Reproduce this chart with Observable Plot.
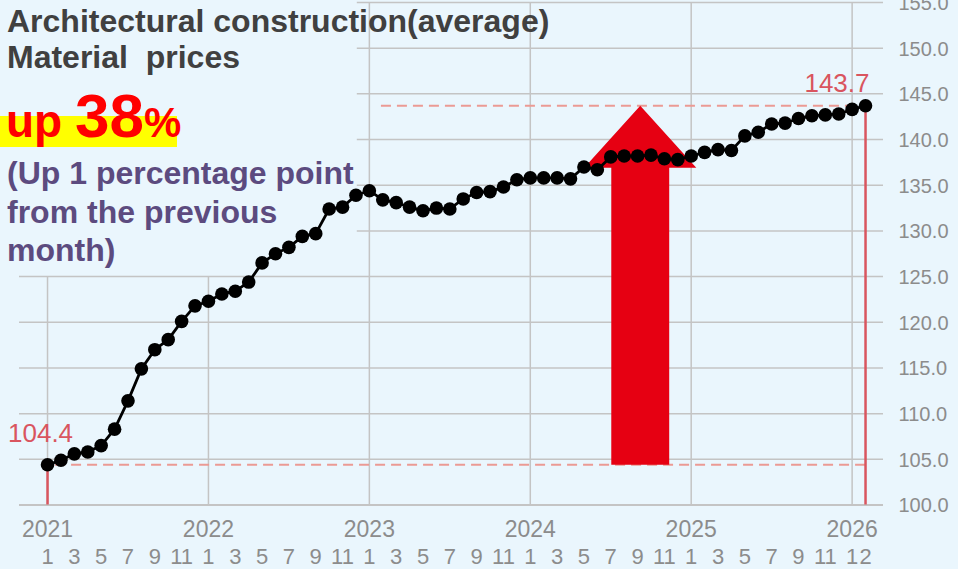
<!DOCTYPE html>
<html>
<head>
<meta charset="utf-8">
<script src="https://cdn.jsdelivr.net/npm/d3@7"></script>
<script src="https://cdn.jsdelivr.net/npm/@observablehq/plot@0.6"></script>
<style>
  html, body { margin: 0; padding: 0; background: #eaf6fd; }
  #wrap { position: relative; width: 958px; height: 569px; overflow: hidden; background: #eaf6fd; }
  #chart { position: absolute; left: 0; top: 0; }
  .ov { position: absolute; white-space: pre; font-family: "Liberation Sans", Arial, sans-serif; font-weight: bold; }
  .title { font-size: 32px; line-height: 32px; color: #404040; left: 7px; }
  .hl { position: absolute; left: 0; top: 116px; width: 177px; height: 31px; background: #ffff00; }
  .big { left: 6px; top: 83px; font-size: 64px; line-height: 1; color: #ff0000; }
  .sub { left: 7px; top: 154px; font-size: 32px; line-height: 38.5px; color: #5c4b7f; }
  g[aria-label="ytick"] text { letter-spacing: 3px; }
</style>
</head>
<body>
<div id="wrap">
  <div id="chart"></div>
  <div class="ov title" style="top:5px">Architectural construction(average)</div>
  <div class="ov title" style="top:41px">Material  prices</div>
  <div class="hl"></div>
  <div class="ov big"><span style="font-size:46px">up </span><span style="font-size:62px">38</span><span style="font-size:42px">%</span></div>
  <div class="ov sub">(Up 1 percentage point<br>from the previous<br>month)</div>
</div>
<script>
// ---- data ----
const startYear = 2021;
const values = [
  104.4, 104.9, 105.6, 105.8, 106.5, 108.3, 111.4, 114.9, 117.0, 118.1, 120.1, 121.8,
  122.3, 123.1, 123.4, 124.4, 126.5, 127.5, 128.2, 129.4, 129.7, 132.4, 132.6, 133.9,
  134.4, 133.4, 133.1, 132.6, 132.2, 132.5, 132.4, 133.5, 134.2, 134.3, 134.8, 135.6,
  135.8, 135.8, 135.8, 135.7, 137.0, 136.7, 138.1, 138.2, 138.2, 138.3, 137.9, 137.8,
  138.2, 138.6, 138.9, 138.8, 140.4, 140.8, 141.7, 141.8, 142.3, 142.6, 142.7, 142.8,
  143.3, 143.7
];
const yTicks = [100, 105, 110, 115, 120, 125, 130, 135, 140, 145, 150, 155];
const yearTicks = [0, 12, 24, 36, 48, 60];          // month index of each January
const monthTicks = d3.range(0, 61, 2).concat([61]); // odd months + Feb 2026
const firstVal = values[0];
const lastVal = values[values.length - 1];
const lastIdx = values.length - 1;

// arrow annotation (in data units)
const arrowMonth = 44.2, shaftHalf = 2.16, headHalf = 4.18, headBase = 136.9;

const data = values.map((v, i) => ({i, v}));
const arrowPts = [
  [arrowMonth - shaftHalf, firstVal],
  [arrowMonth + shaftHalf, firstVal],
  [arrowMonth + shaftHalf, headBase],
  [arrowMonth + headHalf, headBase],
  [arrowMonth, lastVal],
  [arrowMonth - headHalf, headBase],
  [arrowMonth - shaftHalf, headBase]
];

const xMin = -2.09, xMax = 62.34, boxEdge = 23.1;
const grid = "#c4c4c4", tickColor = "#8c8c8c", redLine = "#d9555f", dash = "#eb9a94";

const chart = Plot.plot({
  width: 958, height: 569,
  marginLeft: 19, marginRight: 75, marginTop: 2, marginBottom: 64.5,
  x: {domain: [xMin, xMax], axis: null},
  y: {domain: [100, 155], axis: null},
  style: {background: "transparent", overflow: "visible", fontFamily: "Liberation Sans, Arial, sans-serif"},
  marks: [
    Plot.ruleY(yTicks, {y: d => d, x1: d => d >= 130 ? boxEdge : xMin, x2: xMax, stroke: grid, strokeWidth: d => d === 100 ? 2.2 : 1.5}),
    Plot.ruleX(yearTicks, {x: d => d, y1: 100, y2: d => d < 20 ? 125 : 155, stroke: grid, strokeWidth: 1.5}),
    Plot.ruleY([firstVal], {x1: 0.6, x2: lastIdx, stroke: dash, strokeWidth: 2, strokeDasharray: "10,6"}),
    Plot.ruleY([lastVal], {x1: 24.9, x2: 60.5, stroke: dash, strokeWidth: 2, strokeDasharray: "10,6"}),
    Plot.ruleX([{i: 0, v: firstVal}, {i: lastIdx, v: lastVal}], {x: "i", y1: 100, y2: "v", stroke: redLine, strokeWidth: 2.5}),
    Plot.line(arrowPts, {x: d => d[0], y: d => d[1], fill: "#e60012", stroke: "none", curve: "linear-closed"}),
    Plot.line(data, {x: "i", y: "v", stroke: "#000", strokeWidth: 2.8}),
    Plot.dot(data, {x: "i", y: "v", r: 6.8, fill: "#000", stroke: "none"}),
    Plot.text([firstVal], {x: 0, y: d => d, text: d => d.toFixed(1), dx: -7, dy: -31, fill: redLine, fontSize: 26}),
    Plot.text([lastVal], {x: lastIdx, y: d => d, text: d => d.toFixed(1), textAnchor: "end", dx: 4, dy: -22, fill: redLine, fontSize: 26}),
    Plot.text(yTicks, {x: xMax, y: d => d, text: d => d.toFixed(1), textAnchor: "start", dx: 15, dy: 1, fill: tickColor, fontSize: 20, ariaLabel: "ytick"}),
    Plot.text(yearTicks, {x: d => d, y: 100, text: d => String(startYear + d / 12), dy: 25, fill: tickColor, fontSize: 23, ariaLabel: "xtick"}),
    Plot.text(monthTicks, {x: d => d, y: 100, text: d => String((d % 12) + 1), dy: 52, fill: tickColor, fontSize: 22, ariaLabel: "mtick"})
  ]
});
document.getElementById("chart").appendChild(chart);

// condense the axis label glyphs horizontally (narrow face is not installed)
function condense(label, sx) {
  d3.select(chart).selectAll(`g[aria-label="${label}"] text`).each(function() {
    const t = d3.select(this);
    const tr = t.attr("transform");
    if (tr) {
      t.attr("transform", tr + ` scale(${sx},1)`);
    } else {
      const x = +t.attr("x") || 0, y = +t.attr("y") || 0;
      t.attr("transform", `translate(${x},${y}) scale(${sx},1) translate(${-x},${-y})`);
    }
  });
}
condense("xtick", 0.82);
condense("mtick", 0.76);
</script>
</body>
</html>
